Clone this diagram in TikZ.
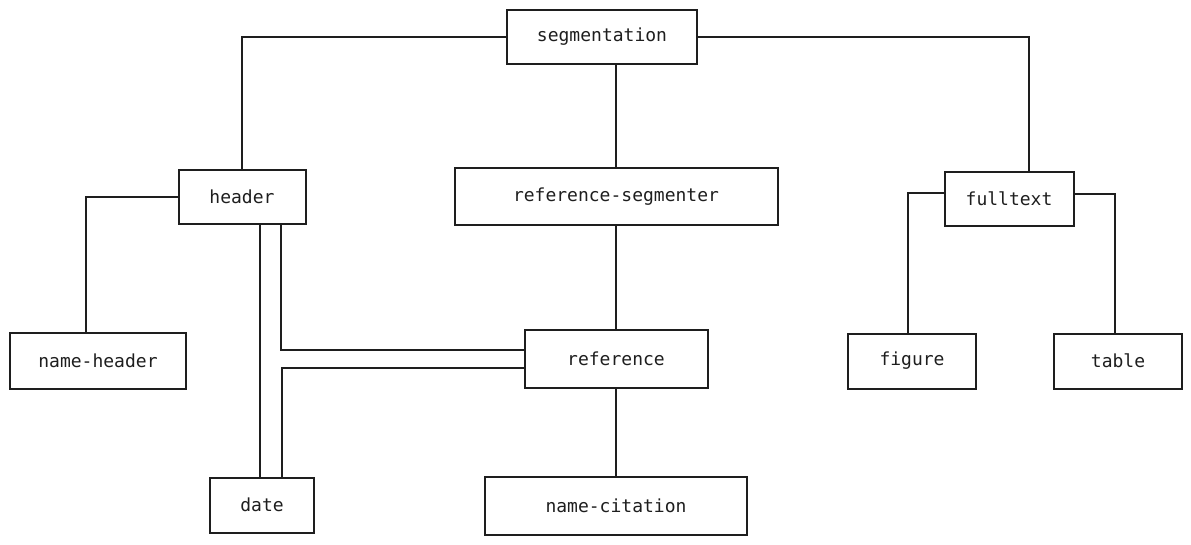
\documentclass[tikz,border=0pt]{standalone}
\usepackage{fontspec}
\setmonofont{DejaVu Sans Mono}
\usepackage{tikz}
\usetikzlibrary{positioning}

\begin{document}
\begin{tikzpicture}[
  x=1pt, y=-1pt,
  box/.style={draw=ink, line width=2pt, inner sep=0pt, align=center, text=ink, font=\ttfamily\fontsize{18}{20}\selectfont},
  link/.style={draw=ink, line width=2pt}
]
\definecolor{ink}{HTML}{1E1E1E}
\useasboundingbox (0,0) rectangle (1191,545);
\node[box, minimum width=190pt, minimum height=54pt] (seg) at (602,37) {segmentation};
\node[box, minimum width=127pt, minimum height=54pt] (header) at (242,197) {header};
\node[box, minimum width=323pt, minimum height=57pt] (refseg) at (616,197) {reference-segmenter};
\node[box, minimum width=129pt, minimum height=54pt] (fulltext) at (1009,199) {fulltext};
\node[box, minimum width=176pt, minimum height=56pt] (namehdr) at (98,361) {name-header};
\node[box, minimum width=183pt, minimum height=58pt] (ref) at (616,359) {reference};
\node[box, minimum width=128pt, minimum height=55pt] (figure) at (912,361) {figure};
\node[box, minimum width=128pt, minimum height=55pt] (table) at (1118,361) {table};
\node[box, minimum width=104pt, minimum height=55pt] (date) at (262,505) {date};
\node[box, minimum width=262pt, minimum height=58pt] (namecit) at (616,506) {name-citation};
% top level
\draw[link] (seg.west) -| (header.north);
\draw[link] (seg.east) -| ([xshift=20pt]fulltext.north);
\draw[link] (seg.south -| refseg.north) -- (refseg.north);
\draw[link] (refseg.south) -- (ref.north);
% header branch
\draw[link] (header.west) -| ([xshift=-12pt]namehdr.north);
\draw[link] ([xshift=18pt]header.south) -- ([xshift=-2pt]date.north);
\draw[link] ([xshift=39pt]header.south) |- ([yshift=9pt]ref.west);
\draw[link] ([yshift=-9pt]ref.west) -| ([xshift=20pt]date.north);
\draw[link] (ref.south) -- (namecit.north);
% fulltext branch
\draw[link] ([yshift=6pt]fulltext.west) -| ([xshift=-4pt]figure.north);
\draw[link] ([yshift=5pt]fulltext.east) -| ([xshift=-3pt]table.north);
\end{tikzpicture}
\end{document}
